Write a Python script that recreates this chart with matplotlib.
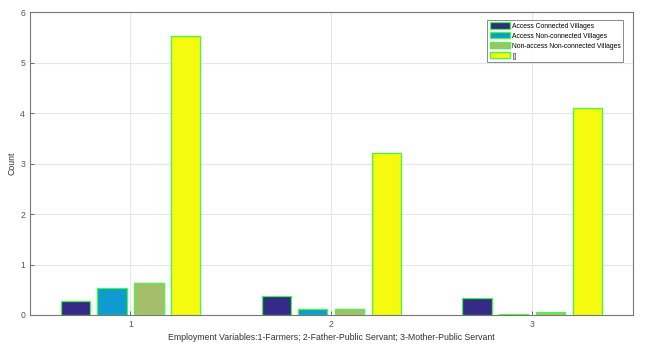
import numpy as np
import matplotlib
matplotlib.use('Agg')
import matplotlib.pyplot as plt

plt.rcParams['font.family'] = ['Liberation Sans', 'DejaVu Sans']

groups = [1, 2, 3]
series_names = ['Access Connected Villages', 'Access Non-connected Villages',
                'Non-access Non-connected Villages', '[]']
access_conn = [0.28, 0.37, 0.34]
access_nonconn = [0.53, 0.12, 0.02]
nonaccess_nonconn = [0.64, 0.12, 0.05]
total = [5.53, 3.21, 4.11]
colors = ['#352a87', '#0d9bd0', '#a5be6a', '#f6fa0f']

fig = plt.figure(figsize=(6.45, 3.46), dpi=100)
ax = fig.add_axes([0.0465, 0.0896, 0.9345, 0.8754])

x = np.array(groups, dtype=float)
offsets = [-0.275, -0.092, 0.092, 0.275]
width = 0.145
for vals, off, c, name in zip([access_conn, access_nonconn, nonaccess_nonconn, total],
                              offsets, colors, series_names):
    ax.bar(x + off, vals, width, color=c, edgecolor='#3cff3c', linewidth=0.9,
           label=name, zorder=3)

ax.set_xlim(0.5, 3.5)
ax.set_ylim(0, 6)
ax.set_xticks(groups)
ax.set_yticks(range(0, 7))
ax.grid(True, color='#e6e6e6', linewidth=0.8, zorder=0)
ax.tick_params(direction='in', labelsize=6.2, colors='#555555', length=3, width=0.6)
for s in ax.spines.values():
    s.set_color('#777777')
    s.set_linewidth(0.8)
ax.set_xlabel('Employment Variables:1-Farmers; 2-Father-Public Servant; 3-Mother-Public Servant',
              fontsize=6.3, color='#333333', labelpad=3)
ax.set_ylabel('Count', fontsize=6.3, color='#333333', labelpad=3)

leg = ax.legend(loc='upper right', fontsize=4.9, frameon=True, fancybox=False,
                edgecolor='#555555', handlelength=3.0, handleheight=1.0,
                borderpad=0.35, labelspacing=0.38, handletextpad=0.3,
                bbox_to_anchor=(0.99, 0.985))
leg.get_frame().set_linewidth(0.6)

fig.savefig('out.png', dpi=100)
